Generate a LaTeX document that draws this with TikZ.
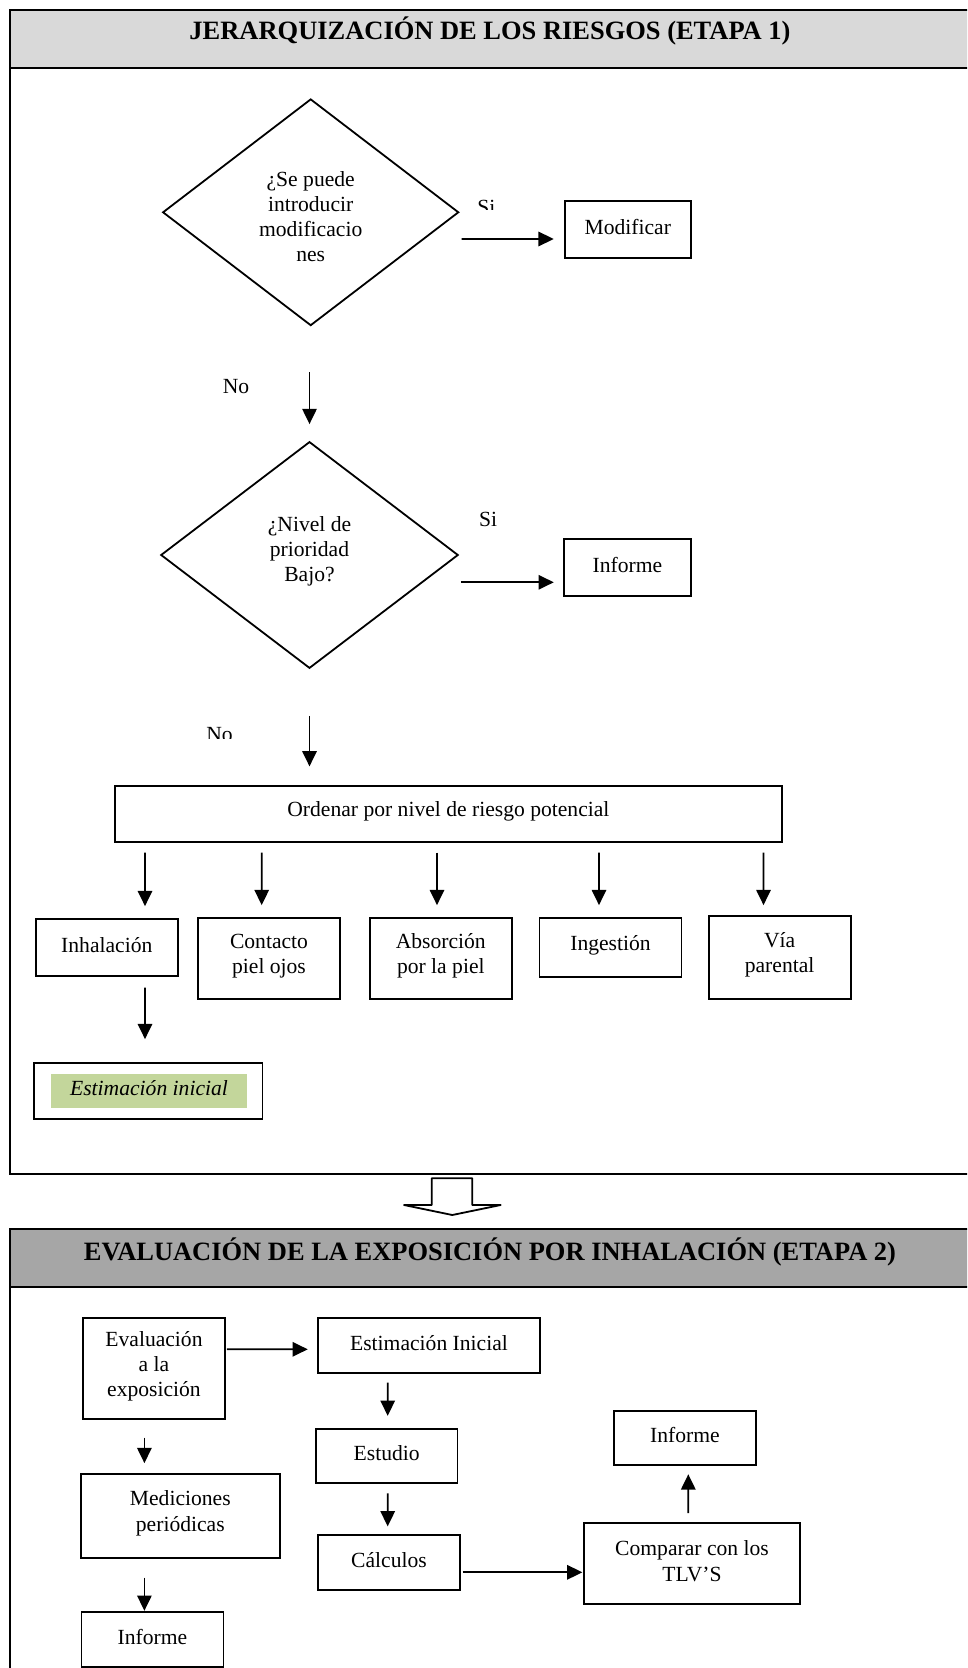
\documentclass[tikz,border=0pt]{standalone}
\usepackage{fontspec}
\setmainfont{Liberation Serif}
\usetikzlibrary{shapes.geometric,arrows.meta,calc}
\newlength{\pxu}
\setlength{\pxu}{0.5556pt}
\definecolor{headA}{HTML}{D9D9D9}
\definecolor{headB}{HTML}{A6A6A6}
\definecolor{greenfill}{HTML}{C3D69B}
\begin{document}
\begin{tikzpicture}[x=\pxu, y=-\pxu,
  txt/.style={font=\fontsize{12}{14}\selectfont},
  lbl/.style={txt, inner sep=0pt, align=center},
  box/.style={draw, line width=1pt, inner sep=0pt,
    label={[lbl, yshift=1.4pt]center:{#1}}},
  dia/.style={draw, diamond, line width=1pt, inner sep=0pt},
  ttl/.style={font=\fontsize{14.7}{17}\selectfont\bfseries, inner sep=0pt},
  arr/.style={-{Triangle[length=8.5pt,width=8pt]}, line width=1pt},
  frame/.style={line width=1.3pt},
]
\useasboundingbox (0,0) rectangle (967,1668);
\clip (0,0) rectangle (967,1668);

% ---------- Stage 1 frame ----------
\fill[headA] (10,10) rectangle (980,68);
\draw[frame] (980,10) -- (10,10) -- (10,1174) -- (980,1174);
\draw[frame] (10,68) -- (980,68);
\node[ttl, anchor=base] (t1) at (490,39.3) {JERARQUIZACIÓN DE LOS RIESGOS (ETAPA 1)};

% diamond 1
\node[dia, minimum width=296*\pxu, minimum height=226.6*\pxu] (d1) at (310.7,212.3) {};
\node[lbl] (d1t) at (310.7,216.5) {¿Se puede\\introducir\\modificacio\\nes};
\begin{scope}
  \clip (470,190) rectangle (510,210);
  \node[lbl, anchor=base west] (si1) at (477,215) {Si};
\end{scope}
\node[box={Modificar}, minimum width=126.3*\pxu, minimum height=57.6*\pxu] (mod) at (627.8,229.5) {};
\draw[arr] ($(d1.east)+(2,26.7)$) -- ($(mod.west)+(-10,9.5)$);

\node[lbl, anchor=base west] (no1) at (222.4,393.5) {No};

% diamond 2
\node[dia, minimum width=297.4*\pxu, minimum height=226.6*\pxu] (d2) at (309.5,555) {};
\node[lbl] (d2t) at (309.5,551.2) {¿Nivel de\\prioridad\\Bajo?};
\draw[arr] ($(d1.south)+(-1.2,46)$) -- ($(d2.north)+(0,-16.7)$);
\node[lbl, anchor=base west] (si2) at (478.7,526) {Si};
\node[box={Informe}, minimum width=127*\pxu, minimum height=56.7*\pxu] (inf1) at (627.5,567.3) {};
\draw[arr] ($(d2.east)+(1.8,27.3)$) -- ($(inf1.west)+(-9.3,15)$);

\begin{scope}
  \clip (195,715) rectangle (250,738.3);
  \node[lbl, anchor=base west] (no2) at (206,741) {No};
\end{scope}

\node[box={Ordenar por nivel de riesgo potencial}, minimum width=667.2*\pxu, minimum height=56.6*\pxu] (ord) at (448.4,814) {};
\draw[arr] ($(d2.south)+(0,46.7)$) -- ($(ord.north)+(-138.9,-18.4)$);

\node[box={Inhalación}, minimum width=142*\pxu, minimum height=56.7*\pxu] (inh) at (106.8,947.7) {};
\node[box={Contacto\\piel ojos}, minimum width=142*\pxu, minimum height=80.7*\pxu] (con) at (269,958.7) {};
\node[box={Absorción\\por la piel}, minimum width=142*\pxu, minimum height=80.7*\pxu] (abs) at (440.8,958.7) {};
\node[box={Ingestión}, minimum width=142*\pxu, minimum height=58.7*\pxu] (ing) at (610.5,947.7) {};
\node[box={Vía\\parental}, minimum width=142*\pxu, minimum height=83.3*\pxu] (via) at (779.6,957.4) {};

\draw[arr] ($(ord.south)+(-303.4,9.4)$) -- ($(inh.north)+(38.2,-12.3)$);
\draw[arr] ($(ord.south)+(-186.7,9.4)$) -- ($(con.north)+(-7.3,-12.3)$);
\draw[arr] ($(ord.south)+(-11.4,9.4)$) -- ($(abs.north)+(-3.8,-12.3)$);
\draw[arr] ($(ord.south)+(150.6,9.4)$) -- ($(ing.north)+(-11.5,-12.3)$);
\draw[arr] ($(ord.south)+(315.1,9.4)$) -- ($(via.north)+(-16.1,-9.7)$);

\node[draw, line width=1pt, minimum width=228.5*\pxu, minimum height=56.3*\pxu] (est) at (148.2,1090.9) {};
\node[fill=greenfill, inner sep=0pt, minimum width=196*\pxu, minimum height=34.5*\pxu] (estt) at (149,1091.2) {};
\node[lbl, font=\fontsize{12}{14}\selectfont\itshape] (esttx) at (149,1088.5) {Estimación inicial};
\draw[arr] ($(inh.south)+(38.2,10.7)$) -- ($(est.north)+(-3.2,-22.7)$);

% ---------- transition arrow ----------
\draw[line width=1pt, fill=white, line join=round]
  (431.7,1178.3) -- (472.3,1178.3) -- (472.3,1205) -- (500.7,1205)
  -- (452.3,1215) -- (404,1205) -- (431.7,1205) -- cycle;

% ---------- Stage 2 frame ----------
\fill[headB] (10,1229) rectangle (980,1287);
\draw[frame] (980,1229) -- (10,1229) -- (10,1700);
\draw[frame] (10,1287) -- (980,1287);
\node[ttl, anchor=base] (t2) at (490,1260) {EVALUACIÓN DE LA EXPOSICIÓN POR INHALACIÓN (ETAPA 2)};

\node[box={Evaluación\\a la\\exposición}, minimum width=141.4*\pxu, minimum height=100.7*\pxu] (eva) at (154,1368.7) {};
\node[box={Estimación Inicial}, minimum width=222*\pxu, minimum height=54.4*\pxu] (ei) at (429,1345.5) {};
\draw[arr] ($(eva.east)+(1.3,-19.4)$) -- ($(ei.west)+(-9.3,3.8)$);
\node[box={Estudio}, minimum width=141.4*\pxu, minimum height=54.3*\pxu] (estu) at (386.7,1455.9) {};
\draw[arr] ($(ei.south)+(-41.3,9)$) -- ($(estu.north)+(1,-12)$);
\node[box={Cálculos}, minimum width=142*\pxu, minimum height=55*\pxu] (cal) at (389,1562.5) {};
\draw[arr] ($(estu.south)+(1,9.3)$) -- ($(cal.north)+(-1.3,-7.7)$);
\node[box={Comparar con los\\TLV’S}, minimum width=216*\pxu, minimum height=80.7*\pxu] (comp) at (692,1563.7) {};
\draw[arr] ($(cal.east)+(1.7,9.8)$) -- ($(comp.west)+(-0.7,8.6)$);
\node[box={Informe}, minimum width=141.4*\pxu, minimum height=54.3*\pxu] (inf2) at (684.9,1437.9) {};
\draw[arr] ($(comp.north)+(-3.7,-9.3)$) -- ($(inf2.south)+(3.4,8.3)$);
\node[box={Mediciones\\periódicas}, minimum width=198.7*\pxu, minimum height=83.7*\pxu] (med) at (180.3,1515.9) {};
\draw[arr] ($(eva.south)+(-9.6,17.7)$) -- ($(med.north)+(-35.9,-10)$);
\node[box={Informe}, minimum width=142*\pxu, minimum height=55*\pxu] (inf3) at (152.5,1639.2) {};
\draw[arr] ($(med.south)+(-35.9,19)$) -- ($(inf3.north)+(-8.1,0)$);
\end{tikzpicture}
\end{document}
